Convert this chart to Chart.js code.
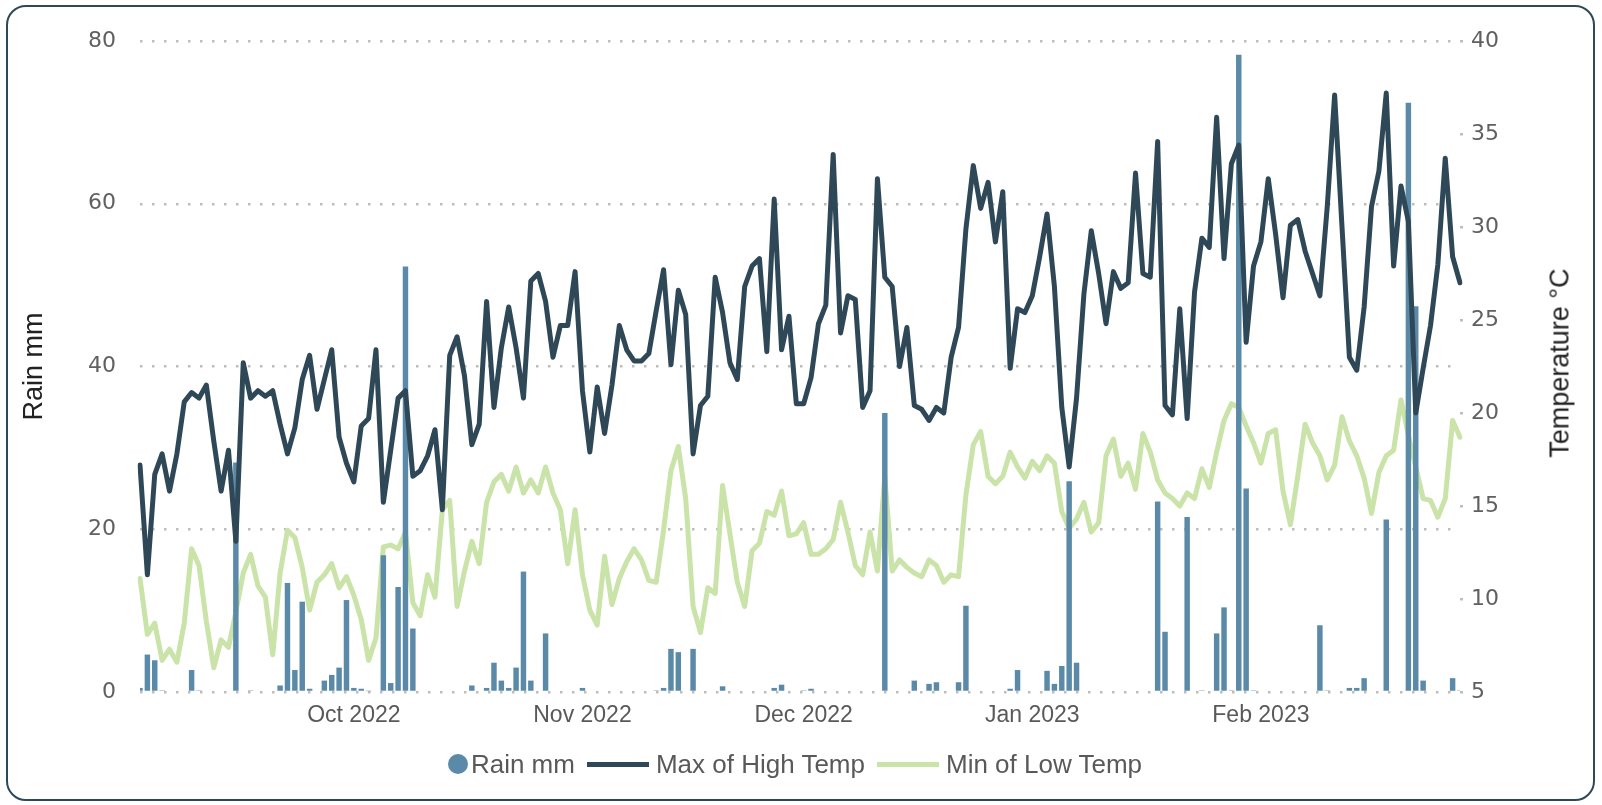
<!DOCTYPE html>
<html>
<head>
<meta charset="utf-8">
<script src="https://cdn.jsdelivr.net/npm/chart.js@4.4.0/dist/chart.umd.min.js"></script>
<style>
  body { margin: 0; background: #fff; }
  #wrap { position: relative; width: 1602px; height: 805px; overflow: hidden; }
  #card {
    position: absolute; left: 6px; top: 5px; width: 1589px; height: 796px;
    box-sizing: border-box; border: 2px solid #2f4858; border-radius: 20px;
  }
  #chart { position: absolute; left: 0; top: 0; }
  #legend {
    position: absolute; left: -6px; width: 1602px; top: 747px; height: 34px;
    display: flex; justify-content: center; align-items: center;
    font-family: "Liberation Sans", Arial, sans-serif; font-size: 26px; color: #595959;
  }
  #rtitle {
    position: absolute; left: 1560px; top: 363px;
    transform: translate(-50%, -50%) rotate(-90deg);
    white-space: nowrap; font-family: "Liberation Sans", Arial, sans-serif;
    font-size: 27px; color: #222;
  }
  .item { display: flex; align-items: center; }
  .dot { width: 20px; height: 20px; border-radius: 50%; margin-right: 3px; }
  .line { width: 62px; height: 5px; margin: 0 7px 0 12px; }
</style>
</head>
<body>
<div id="wrap">
  <div id="card"></div>
  <canvas id="chart" width="1602" height="805"></canvas>
  <div id="rtitle">Temperature °C</div>
  <div id="legend"></div>
</div>
<script>
// daily values, 2 Sep 2022 .. 28 Feb 2023
const startDay = '2022-09-02';
const dayCount = 180;
const monthNames = ['Jan', 'Feb', 'Mar', 'Apr', 'May', 'Jun', 'Jul', 'Aug', 'Sep', 'Oct', 'Nov', 'Dec'];

const rainMm = [
    0.5, 4.6, 3.9, 0.2, 0, 0, 0, 2.7, 0.2, 0,
    0, 0, 0, 28.2, 0, 0.2, 0, 0, 0, 0.8,
    13.4, 2.7, 11.1, 0.4, 0, 1.4, 2.1, 3.0, 11.3, 0.5,
    0.4, 0.1, 0, 16.8, 1.1, 12.9, 52.3, 7.8, 0, 0,
    0, 0, 0, 0, 0, 0.8, 0, 0.5, 3.6, 1.4,
    0.5, 3.0, 14.8, 1.4, 0, 7.2, 0, 0, 0, 0,
    0.5, 0, 0, 0, 0, 0, 0, 0, 0, 0,
    0.2, 0.5, 5.3, 4.9, 0, 5.3, 0, 0, 0, 0.7,
    0, 0, 0, 0, 0, 0, 0.5, 0.9, 0, 0,
    0.2, 0.4, 0, 0, 0, 0, 0, 0, 0, 0,
    0, 34.3, 0, 0, 0, 1.4, 0, 1.0, 1.2, 0,
    0, 1.2, 10.6, 0, 0, 0, 0, 0, 0.4, 2.7,
    0, 0, 0, 2.6, 1.0, 3.2, 25.9, 3.6, 0, 0,
    0, 0, 0, 0, 0, 0, 0, 0, 23.4, 7.4,
    0, 0, 21.5, 0, 0.2, 0, 7.2, 10.4, 0.2, 78.3,
    25.0, 0.2, 0, 0, 0, 0, 0, 0, 0, 0,
    8.2, 0.2, 0, 0, 0.5, 0.5, 1.7, 0, 0, 21.2,
    0, 0, 72.4, 47.4, 1.4, 0, 0, 0, 1.7, 0.2
];

const maxHighTemp = [
    17.2, 11.3, 16.7, 17.8, 15.8, 17.8, 20.6, 21.1, 20.8, 21.5,
    18.5, 15.8, 18.0, 13.1, 22.7, 20.8, 21.2, 20.9, 21.2, 19.4,
    17.8, 19.2, 21.8, 23.1, 20.2, 21.8, 23.4, 18.7, 17.3, 16.3,
    19.3, 19.7, 23.4, 15.2, 18.0, 20.8, 21.2, 16.6, 16.9, 17.7,
    19.1, 14.8, 23.1, 24.1, 22.0, 18.3, 19.4, 26.0, 20.3, 23.5,
    25.7, 23.5, 20.8, 27.1, 27.5, 26.0, 23.0, 24.7, 24.7, 27.6,
    21.2, 17.9, 21.4, 18.9, 21.5, 24.7, 23.4, 22.8, 22.8, 23.2,
    25.5, 27.7, 22.6, 26.6, 25.3, 17.8, 20.4, 20.9, 27.3, 25.4,
    22.7, 21.8, 26.8, 27.9, 28.3, 23.3, 31.5, 23.4, 25.2, 20.5,
    20.5, 21.9, 24.8, 25.8, 33.9, 24.3, 26.3, 26.1, 20.3, 21.2,
    32.6, 27.3, 26.8, 22.5, 24.6, 20.4, 20.2, 19.6, 20.3, 20.0,
    23.0, 24.6, 29.9, 33.3, 31.0, 32.4, 29.2, 31.9, 22.4, 25.6,
    25.4, 26.3, 28.4, 30.7, 26.8, 20.3, 17.1, 20.8, 26.4, 29.8,
    27.5, 24.8, 27.6, 26.7, 27.0, 32.9, 27.5, 27.3, 34.6, 20.4,
    19.9, 25.6, 19.7, 26.5, 29.4, 28.9, 35.9, 28.3, 33.4, 34.4,
    23.8, 27.9, 29.2, 32.6, 29.6, 26.2, 30.1, 30.4, 28.7, 27.5,
    26.3, 31.1, 37.1, 30.0, 23.0, 22.3, 25.7, 31.1, 33.0, 37.2,
    27.9, 32.2, 30.3, 20.0, 22.4, 24.7, 28.0, 33.7, 28.4, 27.0
];

const minLowTemp = [
    11.1, 8.1, 8.7, 6.7, 7.3, 6.6, 8.7, 12.7, 11.8, 8.8,
    6.3, 7.8, 7.4, 9.3, 11.4, 12.4, 10.7, 10.1, 7.0, 11.4,
    13.7, 13.3, 11.7, 9.4, 10.9, 11.3, 11.9, 10.6, 11.2, 10.2,
    8.9, 6.7, 7.9, 12.8, 12.9, 12.7, 13.6, 9.8, 9.1, 11.3,
    10.1, 14.8, 15.3, 9.6, 11.5, 13.1, 11.9, 15.2, 16.3, 16.7,
    15.8, 17.1, 15.7, 16.4, 15.7, 17.1, 15.7, 14.8, 11.9, 14.8,
    11.3, 9.4, 8.6, 12.3, 9.7, 11.1, 12.0, 12.7, 12.1, 11.0,
    10.9, 13.7, 16.9, 18.2, 15.4, 9.6, 8.2, 10.6, 10.3, 16.1,
    13.5, 10.9, 9.6, 12.6, 13.0, 14.7, 14.5, 15.8, 13.4, 13.5,
    14.1, 12.4, 12.4, 12.7, 13.2, 15.2, 13.6, 11.8, 11.3, 13.6,
    11.5, 16.6, 11.5, 12.1, 11.7, 11.4, 11.2, 12.1, 11.8, 10.9,
    11.3, 11.2, 15.6, 18.3, 19.0, 16.6, 16.2, 16.6, 17.9, 17.1,
    16.5, 17.4, 16.9, 17.7, 17.3, 14.7, 13.8, 14.3, 15.2, 13.6,
    14.1, 17.7, 18.6, 16.6, 17.3, 15.9, 18.9, 17.9, 16.4, 15.7,
    15.4, 15.0, 15.7, 15.4, 17.0, 16.0, 17.9, 19.6, 20.5, 20.3,
    19.3, 18.4, 17.3, 18.9, 19.1, 15.8, 14.0, 16.6, 19.4, 18.4,
    17.7, 16.4, 17.2, 19.8, 18.5, 17.7, 16.5, 14.6, 16.8, 17.7,
    18.0, 20.7, 18.8, 17.1, 15.4, 15.3, 14.4, 15.4, 19.6, 18.7
];

const colRain = '#5a8aa8';
const colHigh = '#2f4858';
const colLow = '#c9e3a9';

const labels = [];
let d = new Date(startDay + 'T00:00:00Z');
for (let i = 0; i < dayCount; i++) {
    labels.push(d.toISOString().slice(0, 10));
    d.setUTCDate(d.getUTCDate() + 1);
}

function monthLabel(idx) {
    const s = labels[idx];
    if (!s || s.slice(8, 10) !== '01') return '';
    return monthNames[parseInt(s.slice(5, 7)) - 1] + ' ' + s.slice(0, 4);
}

const textFont = '"Liberation Sans", Arial, sans-serif';
const numFont = '"DejaVu Sans", Verdana, sans-serif';

const data = {
    labels: labels,
    datasets: [{
        type: 'bar',
        label: 'Rain mm',
        data: rainMm,
        backgroundColor: colRain,
        yAxisID: 'y',
        barPercentage: 0.74,
        categoryPercentage: 1,
        order: 1
    }, {
        type: 'line',
        label: 'Max of High Temp',
        data: maxHighTemp,
        borderColor: colHigh,
        borderWidth: 5,
        pointRadius: 0,
        borderJoinStyle: 'round',
        borderCapStyle: 'round',
        tension: 0,
        yAxisID: 'y1',
        order: 0
    }, {
        type: 'line',
        label: 'Min of Low Temp',
        data: minLowTemp,
        borderColor: colLow,
        borderWidth: 5,
        pointRadius: 0,
        borderJoinStyle: 'round',
        borderCapStyle: 'round',
        tension: 0,
        yAxisID: 'y1',
        order: 2
    }]
};

const config = {
    data: data,
    options: {
        responsive: false,
        animation: false,
        devicePixelRatio: 1,
        layout: { padding: { left: 14, right: 22, top: 41, bottom: 63 } },
        plugins: { legend: { display: false }, tooltip: { enabled: false } },
        scales: {
            x: {
                type: 'category',
                offset: false,
                grid: { display: false },
                border: { display: false },
                ticks: {
                    autoSkip: false, maxRotation: 0, padding: 2,
                    color: '#595959', font: { family: textFont, size: 23 },
                    callback: function(val, idx) { return monthLabel(idx); }
                },
                afterFit: function(s) { s.height = 50; }
            },
            y: {
                position: 'left',
                min: 0, max: 80,
                ticks: { stepSize: 20, padding: 24, color: '#606060', font: { family: numFont, size: 22 } },
                grid: { color: '#bdbdbd', lineWidth: 2.5, drawTicks: false },
                border: { display: false, dash: [2.5, 9.5] },
                title: { display: true, text: 'Rain mm', color: '#222', font: { family: textFont, size: 27 } },
                afterFit: function(s) { s.width = 126; }
            },
            y1: {
                position: 'right',
                min: 5, max: 40,
                ticks: { stepSize: 5, padding: 8, color: '#606060', font: { family: numFont, size: 22 } },
                grid: { drawOnChartArea: false, drawTicks: true, tickLength: 3, color: '#bdbdbd', lineWidth: 2.5 },
                border: { display: false },
                afterFit: function(s) { s.width = 120; }
            }
        }
    }
};

let ctx = document.getElementById('chart').getContext('2d');
const chart = new Chart(ctx, config);

// legend drawn as html under the plot
const legend = document.getElementById('legend');
chart.data.datasets.forEach(function(ds) {
    const item = document.createElement('div');
    item.className = 'item';
    const mark = document.createElement('span');
    if (ds.type === 'bar') {
        mark.className = 'dot';
        mark.style.background = ds.backgroundColor;
    } else {
        mark.className = 'line';
        mark.style.background = ds.borderColor;
    }
    item.appendChild(mark);
    const txt = document.createElement('span');
    txt.textContent = ds.label;
    item.appendChild(txt);
    legend.appendChild(item);
});
</script>
</body>
</html>
